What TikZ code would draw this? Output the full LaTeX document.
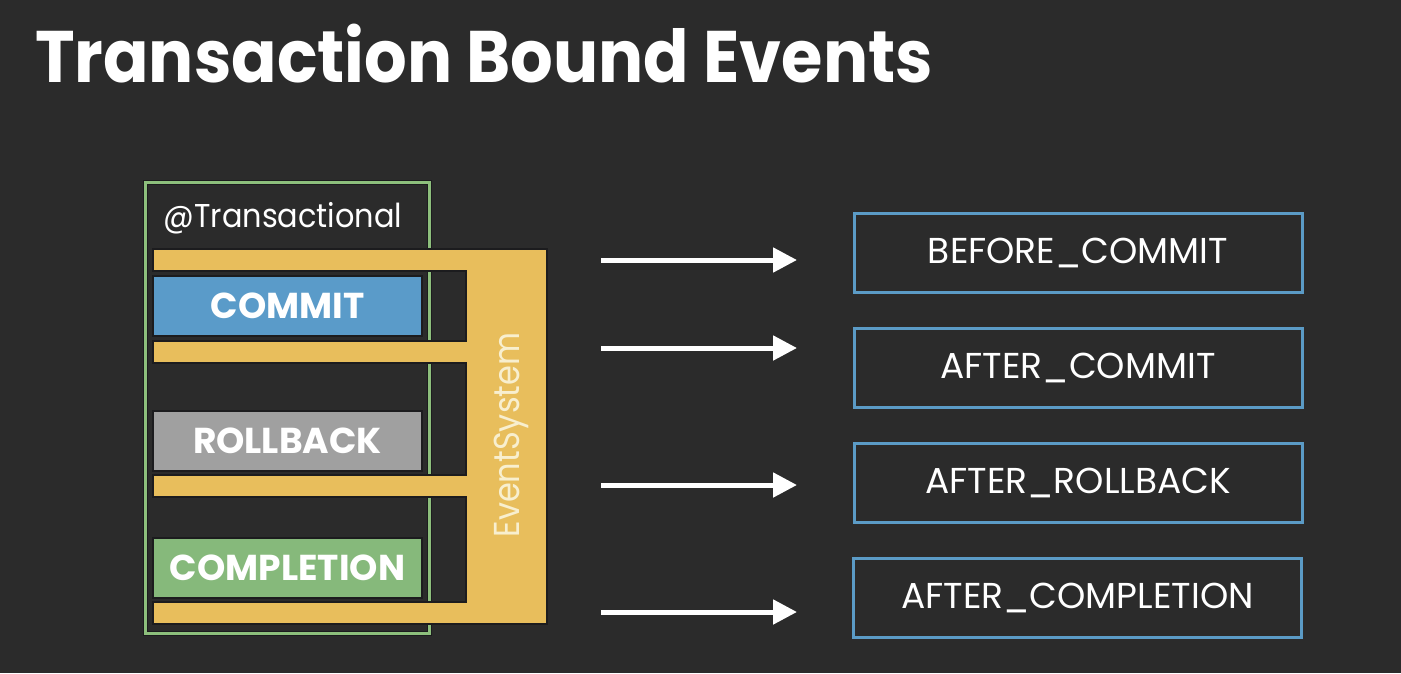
\documentclass[tikz,border=0pt]{standalone}
\usepackage{fontspec}
\setmainfont{Poppins}
\usetikzlibrary{arrows.meta,positioning}

\definecolor{bgdark}{HTML}{2B2B2B}
\definecolor{edgedark}{HTML}{1C1C1E}
\definecolor{evyellow}{HTML}{E8BE5C}
\definecolor{evtext}{HTML}{F8EFCF}
\definecolor{commitblue}{HTML}{5A9BC9}
\definecolor{rollgray}{HTML}{A0A0A0}
\definecolor{complgreen}{HTML}{86B97B}
\definecolor{txgreen}{HTML}{8DBF7C}
\definecolor{phaseblue}{HTML}{5B9BC6}

\tikzset{
  phase/.style={draw=phaseblue, line width=3pt, minimum width=448pt, minimum height=79pt,
    inner sep=0pt, text=white, font=\fontsize{36}{40}\selectfont},
  outcome/.style={draw=edgedark, line width=1.5pt, minimum width=269pt, minimum height=60pt, inner sep=0pt,
    text=white, font=\bfseries\fontsize{36}{40}\selectfont},
  fire/.style={-{Triangle[length=24pt,width=24pt]}, line width=5pt, white},
}

\begin{document}
\begin{tikzpicture}[x=1pt,y=-1pt]
        % Sfondo
        \fill[bgdark] (0,0) rectangle (1401,673);
        \useasboundingbox (0,0) rectangle (1401,673);

        % Titolo
        \node[anchor=base west, inner sep=0pt, text=white, font=\bfseries\fontsize{73}{80}\selectfont\addfontfeatures{FakeStretch=0.918}] (title) at (35,82) {Transaction Bound Events};

        % Blocco transazionale
        \node[draw=edgedark, line width=1pt, double=txgreen, double distance=3pt, minimum width=284pt, minimum height=451pt] (trans) at (287,407.5) {};
        \node[anchor=base, text=white, font=\fontsize{33}{40}\selectfont\addfontfeatures{FakeStretch=0.92}] (transLbl) at (283,227) {@Transactional};

        % Sistema di eventi
        \draw[edgedark, line width=1.5pt, fill=evyellow]
          (153,249) -- (547,249) -- (547,624) -- (153,624) -- (153,602) -- (466,602)
          -- (466,497) -- (153,497) -- (153,475) -- (466,475) -- (466,363) -- (153,363)
          -- (153,341) -- (466,341) -- (466,271) -- (153,271) -- cycle;
        \node[rotate=90, anchor=base, inner sep=0pt, text=evtext, font=\fontsize{36}{40}\selectfont\addfontfeatures{FakeStretch=0.89}] (evsys) at (519,435) {EventSystem};

        % Esiti
        \node[outcome, fill=commitblue] (commit) at (287.5,306) {COMMIT};
        \node[outcome, fill=rollgray] (rollback) at (287.5,441) {ROLLBACK};
        \node[outcome, fill=complgreen] (completion) at (287.5,568) {COMPLETION};

        % Fasi
        \node[phase] (beforeCommit) at (1078,252.5) {BEFORE\_COMMIT};
        \node[phase] (afterCommit) at (1078,367.5) {AFTER\_COMMIT};
        \node[phase] (afterRollback) at (1078,482.5) {AFTER\_ROLLBACK};
        \node[phase] (afterCompletion) at (1077.5,598) {AFTER\_COMPLETION};

        % Frecce
        \foreach \i/\y in {1/260, 2/348, 3/485, 4/612} {
          \coordinate (fireS\i) at (601,\y);
          \coordinate (fireE\i) at (797,\y);
          \draw[fire] (fireS\i) -- (fireE\i);
        }
    \end{tikzpicture}
\end{document}
